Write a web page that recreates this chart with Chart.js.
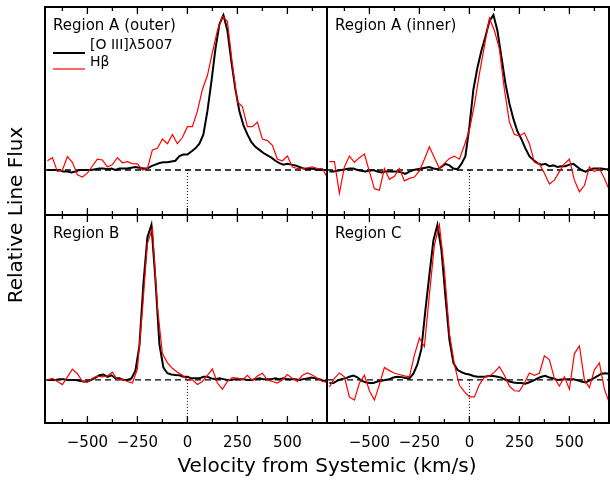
<!DOCTYPE html>
<html><head><meta charset="utf-8">
<script src="https://cdn.jsdelivr.net/npm/chart.js@4"></script>
<style>html,body{margin:0;padding:0;background:#fff;}#wrap{position:relative;width:610px;height:481px;}</style>
</head><body><div id="wrap"><canvas id="c" width="610" height="481"></canvas></div>
<script>
// Velocity grids (km/s)
const VEL_OIII = [-700,-680,-660,-640,-620,-600,-580,-560,-540,-520,-500,-480,-460,-440,-420,-400,-380,-360,-340,-320,-300,-280,-260,-240,-220,-200,-180,-160,-140,-120,-100,-80,-60,-40,-20,0,20,40,60,80,100,120,140,160,180,200,220,240,260,280,300,320,340,360,380,400,420,440,460,480,500,520,540,560,580,600,620,640,660,680,700];
const VEL_HB = [-700,-675,-650,-625,-600,-575,-550,-525,-500,-475,-450,-425,-400,-375,-350,-325,-300,-275,-250,-225,-200,-175,-150,-125,-100,-75,-50,-25,0,25,50,75,100,125,150,175,200,225,250,275,300,325,350,375,400,425,450,475,500,525,550,575,600,625,650,675,700];

// [O III] 5007 relative flux
const OIII_A_OUTER = [0.0,0.0,0.0,0.0,-0.01,-0.01,-0.015,-0.01,0.0,0.0,
0.0,0.0,0.005,0.01,0.01,0.005,0.01,0.0,0.01,0.01,
0.01,0.015,0.02,0.015,0.01,0.01,0.025,0.035,0.045,0.05,
0.05,0.055,0.06,0.09,0.1,0.1,0.12,0.14,0.17,0.23,
0.38,0.57,0.78,0.94,1.0,0.9,0.7,0.52,0.38,0.29,
0.23,0.18,0.15,0.13,0.11,0.095,0.08,0.06,0.045,0.035,
0.04,0.035,0.03,0.02,0.01,0.005,0.01,0.005,0.0,0.0,0.0];
const OIII_A_INNER = [-0.01,-0.01,-0.005,0.0,0.005,0.01,0.01,0.0,-0.005,-0.01,
-0.005,0.0,-0.01,-0.015,-0.01,-0.01,-0.01,-0.01,-0.015,-0.025,
-0.01,0.0,0.005,0.01,0.015,0.02,0.01,0.005,0.02,0.04,
0.03,0.01,0.005,0.04,0.09,0.28,0.52,0.66,0.77,0.86,
0.96,1.0,0.9,0.73,0.56,0.43,0.33,0.25,0.2,0.14,
0.09,0.065,0.045,0.035,0.04,0.025,0.03,0.02,0.025,0.025,
0.035,0.04,0.02,0.0,-0.01,0.0,0.01,0.01,0.01,0.005,0.005];
const OIII_B = [0.0,0.0,0.0,0.005,0.005,0.0,0.0,0.0,-0.005,-0.01,
-0.01,0.0,0.015,0.03,0.035,0.02,0.03,0.01,0.01,0.0,
0.0,0.01,0.06,0.22,0.62,0.92,1.0,0.65,0.23,0.08,
0.043,0.035,0.032,0.03,0.02,0.02,0.01,0.01,0.01,0.02,
0.02,0.01,0.005,0.01,0.005,0.0,0.0,0.005,0.005,0.005,
0.0,0.0,0.005,0.01,0.005,0.005,0.005,0.01,0.005,0.01,
0.005,0.005,0.005,0.0,0.005,0.01,0.015,0.01,0.005,-0.005,-0.01];
const OIII_C = [-0.02,-0.02,-0.005,0.005,0.01,0.02,0.028,0.017,-0.005,-0.015,
-0.02,-0.02,-0.01,-0.005,0.0,0.005,0.015,0.02,0.018,0.012,
0.01,0.04,0.1,0.2,0.45,0.68,0.9,1.0,0.84,0.54,
0.26,0.11,0.065,0.05,0.04,0.035,0.025,0.02,0.02,0.022,
0.025,0.025,0.02,0.015,0.0,-0.01,-0.017,-0.02,-0.02,-0.025,
-0.015,-0.005,0.01,0.02,0.026,0.015,0.01,0.0,0.002,0.004,
0.004,0.004,-0.002,-0.01,-0.017,-0.005,0.01,0.025,0.04,0.043,0.04];

// H-beta relative flux
const HB_A_OUTER = [0.06,0.08,-0.01,0.0,0.086,0.05,-0.03,-0.045,-0.02,0.026,
0.07,0.065,0.02,0.035,0.08,0.047,0.054,0.042,0.04,0.0,
0.01,0.13,0.14,0.2,0.17,0.23,0.17,0.21,0.28,0.28,
0.38,0.52,0.61,0.76,0.9,0.99,0.96,0.68,0.44,0.41,
0.28,0.28,0.31,0.2,0.19,0.16,0.07,0.06,0.09,0.02,
0.01,0.01,0.015,0.02,0.01,0.01,-0.05];
const HB_A_INNER = [0.054,0.055,-0.15,0.02,0.09,0.05,0.08,0.103,-0.01,-0.12,
-0.13,0.01,-0.06,-0.04,0.01,-0.07,-0.054,-0.045,-0.005,0.07,
0.15,0.08,0.01,0.043,0.075,0.09,0.07,0.16,0.26,0.42,
0.62,0.8,0.98,0.9,0.78,0.52,0.31,0.23,0.22,0.24,
0.17,0.05,0.04,-0.02,-0.09,-0.065,-0.01,0.04,0.07,-0.065,
-0.14,-0.1,0.02,-0.01,0.01,-0.054,-0.13];
const HB_B = [0.0,0.01,-0.01,-0.03,0.02,0.07,0.04,-0.01,-0.015,0.01,
0.025,0.02,0.025,0.05,0.0,0.005,-0.01,-0.02,0.07,0.45,
0.88,0.98,0.47,0.17,0.11,0.075,0.05,0.03,0.0,0.0,
-0.03,-0.01,0.03,0.07,-0.02,-0.06,-0.01,0.015,0.012,0.0,
0.03,-0.005,0.025,0.043,0.0,-0.01,-0.02,0.0,0.035,0.01,
-0.01,0.03,0.045,0.032,0.01,-0.01,-0.015];
const HB_C = [-0.045,0.01,0.045,0.02,-0.11,-0.13,-0.02,0.03,-0.07,-0.13,
-0.03,0.08,0.06,0.043,0.035,0.026,0.02,0.16,0.27,0.215,
0.55,0.87,1.0,0.71,0.3,0.1,-0.035,-0.075,-0.11,-0.11,
-0.03,0.017,0.024,0.05,0.085,0.03,-0.04,-0.07,-0.072,-0.02,
0.045,0.03,0.043,0.155,0.13,0.01,-0.04,0.02,-0.06,0.17,
0.22,0.0,-0.05,0.065,0.11,-0.06,-0.15];

const TICK_VALUES = [-500,-250,0,250,500];
const TICK_LABELS = ['\u2212500','\u2212250','0','250','500'];
const MINOR_TICKS = [-625,-375,-125,125,375,625];
const PANEL_NAMES = ['Region A (outer)','Region A (inner)','Region B','Region C'];
const LEGEND_LABELS = ['[O III]\u03bb5007','H\u03b2'];
const X_TITLE = 'Velocity from Systemic (km/s)';
const Y_TITLE = 'Relative Line Flux';

const FONT = 'DejaVu Sans';
const PANELS = [
  {x:'xL', y:'yT', oiii:OIII_A_OUTER, hb:HB_A_OUTER, name:PANEL_NAMES[0], legend:true},
  {x:'xR', y:'yT', oiii:OIII_A_INNER, hb:HB_A_INNER, name:PANEL_NAMES[1]},
  {x:'xL', y:'yB', oiii:OIII_B, hb:HB_B, name:PANEL_NAMES[2]},
  {x:'xR', y:'yB', oiii:OIII_C, hb:HB_C, name:PANEL_NAMES[3]}
];

const datasets = [];
PANELS.forEach(p => {
  datasets.push({label:'[O III]', data: VEL_OIII.map((v,i)=>({x:v,y:p.oiii[i]})), xAxisID:p.x, yAxisID:p.y,
    borderColor:'#000', borderWidth:2, pointRadius:0, tension:0, order:2});
  datasets.push({label:'Hb', data: VEL_HB.map((v,i)=>({x:v,y:p.hb[i]})), xAxisID:p.x, yAxisID:p.y,
    borderColor:'#ff0000', borderWidth:1.2, pointRadius:0, tension:0, order:1});
});

function zeroPad(a){ a.paddingLeft = 0; a.paddingRight = 0; a.paddingTop = 0; a.paddingBottom = 0; }
function xAxis(weight){
  return {type:'linear', position:'bottom', stack:'vx', stackWeight:1, weight:weight,
    min:-712, max:698, offset:false,
    grid:{display:false, drawTicks:false}, border:{display:false},
    afterBuildTicks: a => { a.ticks = TICK_VALUES.map(v => ({value:v})); },
    afterFit: zeroPad,
    ticks:{autoSkip:false, maxRotation:0, minRotation:0, padding:11, color:'#000',
      font:{family:FONT, size:15},
      callback: v => TICK_LABELS[TICK_VALUES.indexOf(v)]}};
}
function yAxis(weight, min, max){
  return {type:'linear', position:'left', stack:'vy', stackWeight:1, weight:weight,
    min:min, max:max, grid:{display:false, drawTicks:false}, border:{display:false},
    afterFit: zeroPad, ticks:{display:false}};
}

const decor = {
  id:'decor',
  beforeDatasetsDraw(chart){
    const ctx = chart.ctx;
    PANELS.forEach(p => {
      const xs = chart.scales[p.x], ys = chart.scales[p.y];
      const y0 = ys.getPixelForValue(0), x0 = xs.getPixelForValue(0);
      ctx.save();
      ctx.strokeStyle = '#000';
      ctx.lineWidth = 1.4;
      ctx.setLineDash([6,4]);
      ctx.beginPath(); ctx.moveTo(xs.left, y0); ctx.lineTo(xs.right, y0); ctx.stroke();
      ctx.lineWidth = 1;
      ctx.setLineDash([1,2]);
      ctx.beginPath(); ctx.moveTo(x0, y0); ctx.lineTo(x0, ys.bottom); ctx.stroke();
      ctx.restore();
    });
  },
  afterDatasetsDraw(chart){
    const ctx = chart.ctx, a = chart.chartArea;
    ctx.save();
    ctx.strokeStyle = '#000';
    ctx.lineWidth = 2;
    ctx.strokeRect(a.left, a.top, a.right - a.left, a.bottom - a.top);
    const xm = chart.scales.xL.right, ym = chart.scales.yT.bottom;
    ctx.beginPath();
    ctx.moveTo(xm, a.top); ctx.lineTo(xm, a.bottom);
    ctx.moveTo(a.left, ym); ctx.lineTo(a.right, ym);
    ctx.stroke();
    ctx.lineWidth = 1.3;
    PANELS.forEach(p => {
      const xs = chart.scales[p.x], ys = chart.scales[p.y];
      const drawTick = (v, len) => {
        const px = xs.getPixelForValue(v);
        ctx.beginPath();
        ctx.moveTo(px, ys.bottom); ctx.lineTo(px, ys.bottom - len);
        ctx.moveTo(px, ys.top); ctx.lineTo(px, ys.top + len);
        ctx.stroke();
      };
      TICK_VALUES.forEach(v => drawTick(v, 7));
      MINOR_TICKS.forEach(v => drawTick(v, 4));
      ctx.fillStyle = '#000';
      ctx.font = '15px "' + FONT + '"';
      ctx.textBaseline = 'middle';
      ctx.textAlign = 'left';
      ctx.fillText(p.name, xs.left + 8, ys.top + 19.5);
      if (p.legend) {
        const lx = xs.left + 8, top = ys.top;
        ctx.lineWidth = 2; ctx.strokeStyle = '#000';
        ctx.beginPath(); ctx.moveTo(lx, top + 46); ctx.lineTo(lx + 32, top + 46); ctx.stroke();
        ctx.lineWidth = 1.2; ctx.strokeStyle = '#ff0000';
        ctx.beginPath(); ctx.moveTo(lx, top + 62); ctx.lineTo(lx + 32, top + 62); ctx.stroke();
        ctx.font = '14px "' + FONT + '"';
        ctx.fillStyle = '#000';
        ctx.fillText(LEGEND_LABELS[0], lx + 37, top + 38);
        ctx.fillText(LEGEND_LABELS[1], lx + 37, top + 55);
        ctx.strokeStyle = '#000'; ctx.lineWidth = 1.3;
      }
    });
    ctx.restore();
  }
};

new Chart(document.getElementById('c'), {
  type:'line',
  data:{datasets},
  options:{
    responsive:false, animation:false, devicePixelRatio:1,
    layout:{padding:{left:0, right:1, top:7, bottom:4}},
    scales:{ xL:xAxis(1), xR:xAxis(2), yT:yAxis(2,-0.29,1.052), yB:yAxis(1,-0.278,1.064) },
    plugins:{
      legend:{display:false}, tooltip:{enabled:false},
      title:{display:true, text:Y_TITLE, position:'left', fullSize:false, align:'center', color:'#000',
        font:{family:FONT, size:20, weight:'normal', lineHeight:1.2}, padding:{top:5, bottom:16}},
      subtitle:{display:true, text:X_TITLE, position:'bottom', fullSize:false, align:'center', color:'#000',
        font:{family:FONT, size:20, weight:'normal', lineHeight:1.0}, padding:{top:-6, bottom:0}}
    }
  },
  plugins:[decor]
});
</script></body></html>
